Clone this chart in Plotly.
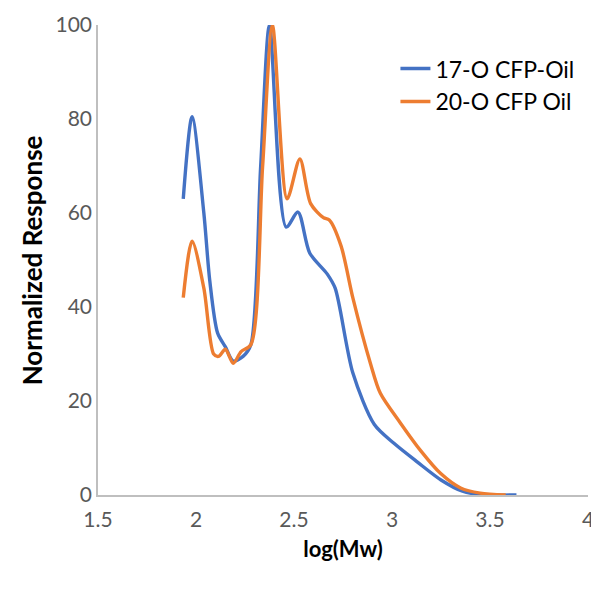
import plotly.graph_objects as go

# Data
blue_name = "17-O CFP-Oil"
blue_x = [1.935, 1.98, 2.04, 2.07, 2.11, 2.15, 2.19, 2.24, 2.28, 2.33, 2.375, 2.46, 2.52, 2.58, 2.67, 2.71, 2.80, 2.91, 3.01, 3.13, 3.25, 3.36, 3.45, 3.635]
blue_y = [63, 80.5, 60, 45.7, 34.5, 31.5, 28.5, 29.5, 32, 70, 100, 57, 60.2, 51.5, 47, 44, 26, 15, 11, 7, 3.2, 0.8, 0.1, 0]

orange_name = "20-O CFP Oil"
orange_x = [1.935, 1.98, 2.04, 2.09, 2.115, 2.15, 2.19, 2.23, 2.28, 2.34, 2.39, 2.465, 2.53, 2.585, 2.65, 2.68, 2.74, 2.80, 2.89, 2.94, 3.04, 3.145, 3.25, 3.35, 3.45, 3.58]
orange_y = [42, 54, 44, 30, 29.5, 31, 28, 30.5, 32, 70, 100, 63, 71.5, 62, 59, 58.5, 53, 42, 28, 21.7, 15.5, 9.5, 4.5, 1.5, 0.4, 0]

x_ticks = [1.5, 2, 2.5, 3, 3.5, 4]
y_ticks = [0, 20, 40, 60, 80, 100]

FONT = "Lato, 'Open Sans', sans-serif"

fig = go.Figure()
fig.add_trace(go.Scatter(x=blue_x, y=blue_y, name=blue_name, mode="lines",
                         line=dict(color="#4472C4", width=3.4, shape="spline", smoothing=0.8)))
fig.add_trace(go.Scatter(x=orange_x, y=orange_y, name=orange_name, mode="lines",
                         line=dict(color="#ED7D31", width=3.4, shape="spline", smoothing=0.8)))

# page body has an 8px default margin, so the figure is sized 8px smaller
fig.update_layout(
    width=591, height=581,
    margin=dict(l=89.5, r=11, t=17, b=94),
    paper_bgcolor="white", plot_bgcolor="white",
    font=dict(family=FONT, color="#595959", size=21),
    showlegend=True,
    legend=dict(x=0.607, y=0.953, xanchor="left", yanchor="top",
                font=dict(family=FONT, size=23, color="#000000"),
                bgcolor="rgba(0,0,0,0)", tracegroupgap=4),
    xaxis=dict(range=[1.5, 4], tickvals=x_ticks, ticktext=[str(v) for v in x_ticks],
               showgrid=False, zeroline=False, showline=True, linecolor="#BFBFBF", linewidth=1.5,
               ticks="", ticklabelstandoff=5, automargin=False,
               title=dict(text="<b>log(Mw)</b>", font=dict(family=FONT, size=22, color="#000000"), standoff=12)),
    yaxis=dict(range=[0, 100], tickvals=y_ticks, ticktext=[str(v) for v in y_ticks],
               showgrid=False, zeroline=False, showline=True, linecolor="#BFBFBF", linewidth=1.5,
               ticks="", ticklabelstandoff=0, automargin=False),
    annotations=[dict(text="<b>Normalized Response</b>", xref="paper", yref="paper",
                      x=-0.134, y=0.5, xanchor="center", yanchor="middle", textangle=-90,
                      showarrow=False, font=dict(family=FONT, size=26, color="#000000"))],
)

fig.write_html("out.html")
